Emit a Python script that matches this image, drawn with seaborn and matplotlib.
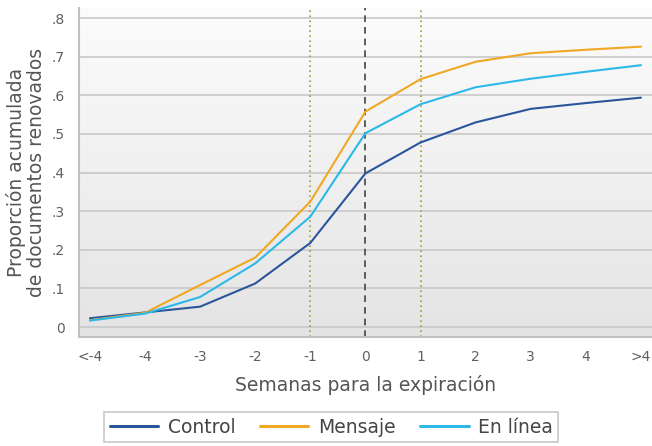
import numpy as np
import pandas as pd
import seaborn as sns
import matplotlib.pyplot as plt
from matplotlib.colors import LinearSegmentedColormap

semanas = ["<-4", "-4", "-3", "-2", "-1", "0", "1", "2", "3", "4", ">4"]
posicion = [-5, -4, -3, -2, -1, 0, 1, 2, 3, 4, 5]
control = [0.023, 0.038, 0.053, 0.113, 0.218, 0.398, 0.478, 0.530, 0.565, 0.580, 0.594]
mensaje = [0.018, 0.037, 0.109, 0.180, 0.325, 0.558, 0.642, 0.687, 0.709, 0.718, 0.726]
en_linea = [0.017, 0.035, 0.078, 0.165, 0.286, 0.502, 0.577, 0.621, 0.643, 0.661, 0.678]

df = pd.DataFrame({
    "semana": posicion * 3,
    "valor": control + mensaje + en_linea,
    "grupo": ["Control"] * 11 + ["Mensaje"] * 11 + ["En línea"] * 11,
})

sns.set_style("white")
plt.rcParams['font.family'] = ['DejaVu Sans']

fig = plt.figure(figsize=(6.52, 4.46), dpi=100)
ax = fig.add_axes([0.121, 0.244, 0.879, 0.738])

# gradient background
grad = np.linspace(0, 1, 256).reshape(-1, 1)
cmap = LinearSegmentedColormap.from_list("g", ["#e4e4e4", "#fcfcfc"])
ax.imshow(grad, extent=[0, 1, 0, 1], transform=ax.transAxes, cmap=cmap,
          origin="lower", aspect="auto", zorder=0)

palette = {"Control": "#2b559c", "Mensaje": "#f0a824", "En línea": "#2cb8e8"}
sns.lineplot(data=df, x="semana", y="valor", hue="grupo", palette=palette, linewidth=1.5, ax=ax, zorder=3)

ax.axvline(-1, color="#a0a030", linestyle=(0, (1, 2)), linewidth=1.2, zorder=2)
ax.axvline(1, color="#a0a030", linestyle=(0, (1, 2)), linewidth=1.2, zorder=2)
ax.axvline(0, color="#444444", linestyle=(0, (4, 3)), linewidth=1.2, zorder=2)

ax.set_xlim(-5.2, 5.2)
ax.set_ylim(-0.026, 0.826)
yt = [0, 0.1, 0.2, 0.3, 0.4, 0.5, 0.6, 0.7, 0.8]
ax.set_yticks(yt)
ax.set_yticklabels(["0", ".1", ".2", ".3", ".4", ".5", ".6", ".7", ".8"])
ax.set_xticks(posicion)
ax.set_xticklabels(semanas)
ax.grid(axis="y", color="#c8c8c8", linewidth=1.2, zorder=1)
ax.set_axisbelow(True)
ax.tick_params(axis="y", length=4, color="#c8c8c8", labelsize=10, labelcolor="#606060", pad=6)
ax.tick_params(axis="x", length=0, labelsize=10, labelcolor="#606060", pad=9)
for s in ["top", "right"]:
    ax.spines[s].set_visible(False)
for s in ["left", "bottom"]:
    ax.spines[s].set_color("#c0c0c0")
    ax.spines[s].set_linewidth(1.5)

ax.set_xlabel("Semanas para la expiración", fontsize=13.5, color="#555555", labelpad=8)
ax.set_ylabel("Proporción acumulada\nde documentos renovados", fontsize=13.5, color="#555555", labelpad=4, linespacing=1.1)

ax.get_legend().remove()
handles, labels = ax.get_legend_handles_labels()
leg = fig.legend(handles, labels, loc="upper center", bbox_to_anchor=(0.508, 0.076), ncol=3, frameon=True,
                 fancybox=False, fontsize=13.5, handlelength=2.6, columnspacing=1.3, handletextpad=0.5,
                 borderpad=0.3, borderaxespad=0)
leg.get_frame().set_edgecolor("#bbbbbb")
leg.get_frame().set_linewidth(1.2)
for t in leg.get_texts():
    t.set_color("#444444")
for l in leg.get_lines():
    l.set_linewidth(2.2)

plt.savefig("out.png", dpi=100)
